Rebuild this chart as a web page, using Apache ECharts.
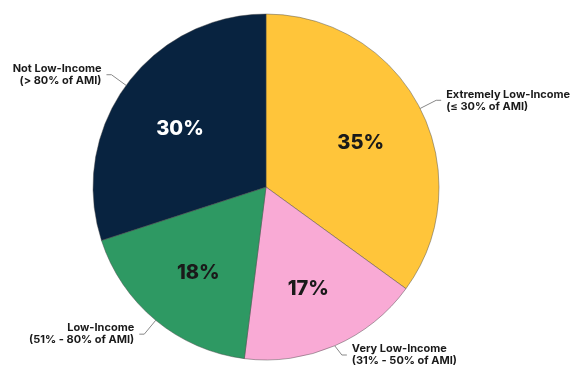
<!DOCTYPE html>
<html>
<head>
<meta charset="utf-8">
<script src="https://cdn.jsdelivr.net/npm/echarts@6/dist/echarts.min.js"></script>
<style>
html,body{margin:0;padding:0;background:#fff;}
#chart{width:570px;height:368px;}
</style>
</head>
<body>
<div id="chart"></div>
<script>
var categories = [
  'Extremely Low-Income\n(≤ 30% of AMI)',
  'Very Low-Income\n(31% - 50% of AMI)',
  'Low-Income\n(51% - 80% of AMI)',
  'Not Low-Income\n(> 80% of AMI)'
];
var values = [35, 17, 18, 30];
var colors = ['#FFC53A', '#F9AAD5', '#2E9963', '#082340'];
var pctColors = ['#1a1a1a', '#1a1a1a', '#1a1a1a', '#ffffff'];

var chart = echarts.init(document.getElementById('chart'));
var center = [266, 187];
var R = 173;

var outerData = categories.map(function (c, i) {
  return { name: c, value: values[i], itemStyle: { color: colors[i] } };
});
var innerData = categories.map(function (c, i) {
  return {
    name: c, value: values[i],
    label: { color: pctColors[i] }
  };
});

chart.setOption({
  animation: false,
  series: [
    {
      type: 'pie',
      center: center,
      radius: [0, R],
      startAngle: 90,
      clockwise: true,
      data: outerData,
      itemStyle: { borderColor: 'rgba(70,70,70,0.45)', borderWidth: 1 },
      label: {
        show: true,
        position: 'outside',
        formatter: '{b}',
        fontFamily: 'Inter',
        fontWeight: 'bold',
        fontSize: 11,
        lineHeight: 12,
        color: '#1a1a1a',
        overflow: 'none',
        width: 200
      },
      labelLine: {
        show: true,
        length: 18,
        length2: 5,
        lineStyle: { color: '#888888', width: 1 }
      },
      emphasis: { disabled: true }
    },
    {
      type: 'pie',
      center: center,
      radius: [R * 0.2, R - 1],
      startAngle: 90,
      clockwise: true,
      silent: true,
      data: innerData,
      itemStyle: { color: 'rgba(0,0,0,0)', borderWidth: 0 },
      label: {
        show: true,
        position: 'inside',
        formatter: '{c}%',
        fontFamily: 'Inter',
        fontWeight: 800,
        fontSize: 20,
        offset: [0, 4]
      },
      labelLine: { show: false },
      emphasis: { disabled: true }
    }
  ]
});
</script>
</body>
</html>
